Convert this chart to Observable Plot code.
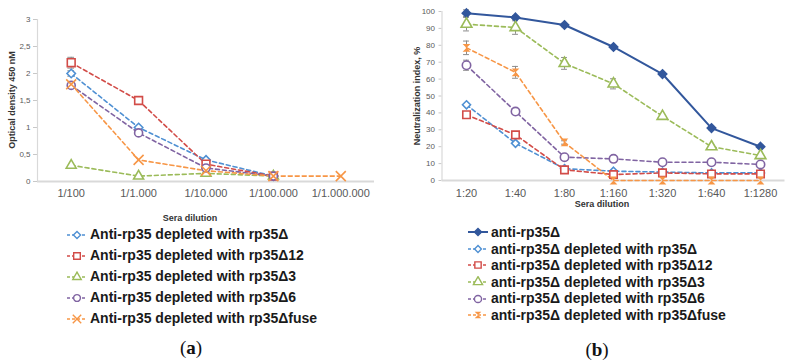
<!DOCTYPE html>
<html>
<head>
<meta charset="utf-8">
<script src="https://cdn.jsdelivr.net/npm/d3@7"></script>
<script src="https://cdn.jsdelivr.net/npm/@observablehq/plot@0.6"></script>
<style>
  body { margin:0; width:790px; height:364px; position:relative; background:#fff; overflow:hidden;
         font-family:"Liberation Sans", Arial, sans-serif; }
  .abs { position:absolute; }
  .ytitle { position:absolute; font-weight:bold; font-size:9px; color:#333; white-space:nowrap;
            transform:translate(-50%,-50%) rotate(-90deg); }
  .xtitle { position:absolute; font-weight:bold; font-size:9px; color:#333; white-space:nowrap;
            transform:translate(-50%,-50%); }
  .leg { position:absolute; font-weight:bold; font-size:14px; color:#1a1a1a; white-space:nowrap; }
  .leg div { display:flex; align-items:center; }
  .leg svg { margin-right:2px; }
  .cap { position:absolute; font-family:"Liberation Serif","DejaVu Serif",serif; font-size:19px; color:#111;
         transform:translate(-50%,-50%); }
</style>
</head>
<body>
<div id="pa" class="abs" style="left:0;top:0"></div>
<div id="pb" class="abs" style="left:400px;top:0"></div>
<div class="ytitle" style="left:12px;top:100px">Optical density 450 nM</div>
<div class="ytitle" style="left:417px;top:96px">Neutralization index, %</div>
<div class="xtitle" style="left:190px;top:218px">Sera dilution</div>
<div class="xtitle" style="left:602px;top:204px">Sera dilution</div>
<div id="la" class="leg" style="left:66px;top:224px;line-height:21px"></div>
<div id="lb" class="leg" style="left:467px;top:224px;line-height:16.6px"></div>
<div class="cap" style="left:191px;top:348px">(<b>a</b>)</div>
<div class="cap" style="left:597px;top:350px">(<b>b</b>)</div>
<script>
// ---------- Panel (a) data ----------
const dilA = ["1/100", "1/1.000", "1/10.000", "1/100.000", "1/1.000.000"];
const yTicksA = [0, 0.5, 1, 1.5, 2, 2.5, 3];
const namesA = [
  "Anti-rp35 depleted with rp35Δ",
  "Anti-rp35 depleted with rp35Δ12",
  "Anti-rp35 depleted with rp35Δ3",
  "Anti-rp35 depleted with rp35Δ6",
  "Anti-rp35 depleted with rp35Δfuse"
];
const a_d    = [2.0, 1.0, 0.4, 0.1];
const a_d12  = [2.2, 1.5, 0.32, 0.1];
const a_d3   = [0.3, 0.1, 0.15, 0.1];
const a_d6   = [1.78, 0.9, 0.25, 0.1];
const a_fuse = [1.8, 0.4, 0.2, 0.1, 0.1];
const errA_d   = [0.05, 0, 0, 0];
const errA_d12 = [0.1, 0, 0, 0];

// ---------- Panel (b) data ----------
const dilB = ["1:20", "1:40", "1:80", "1:160", "1:320", "1:640", "1:1280"];
const yTicksB = [0, 10, 20, 30, 40, 50, 60, 70, 80, 90, 100];
const namesB = [
  "anti-rp35Δ",
  "anti-rp35Δ depleted with rp35Δ",
  "anti-rp35Δ depleted with rp35Δ12",
  "anti-rp35Δ depleted with rp35Δ3",
  "anti-rp35Δ depleted with rp35Δ6",
  "anti-rp35Δ depleted with rp35Δfuse"
];
const b_all  = [99, 96.5, 92, 79, 63, 31, 20];
const b_d    = [44.8, 22, 7, 5.5, 5, 4.5, 4.5];
const b_d12  = [38.9, 27, 6.3, 3.5, 4.5, 3.9, 3.9];
const b_d3   = [92.5, 90.5, 69.3, 57.2, 38, 20, 14.8];
const b_d6   = [68.2, 40.8, 13.8, 12.8, 10.8, 10.8, 9.5];
const b_fuse = [78.5, 64, 22.5, 0, 0, 0, 0];
const errB_all  = [2, 1, 1, 0.5, 0.5, 1, 0.5];
const errB_d3   = [4, 4, 3.5, 3, 1.5, 0.5, 0.5];
const errB_d6   = [3, 0, 0, 0, 0, 0, 0];
const errB_fuse = [4, 3.5, 1, 0, 0, 0, 0];

// ---------- styles ----------
const C = {blue:"#4F90D3", red:"#D24C48", green:"#9BBB59", purple:"#8064A2", orange:"#F79646", navy:"#32579C"};
const hourglass = {draw(ctx, size){ const r = Math.sqrt(size)/2;
  ctx.moveTo(-r,-r); ctx.lineTo(r,-r); ctx.lineTo(-r,r); ctx.lineTo(r,r); ctx.closePath(); }};

const seriesA = [
  {name:namesA[0], v:a_d,   err:errA_d,   color:C.blue,   symbol:"diamond2", r:3.8, fill:"white"},
  {name:namesA[1], v:a_d12, err:errA_d12, color:C.red,    symbol:"square",   r:4.4, fill:"white"},
  {name:namesA[2], v:a_d3,  err:null,     color:C.green,  symbol:"triangle", r:3.7, fill:"white"},
  {name:namesA[3], v:a_d6,  err:null,     color:C.purple, symbol:"circle",   r:4.0, fill:"white"},
  {name:namesA[4], v:a_fuse,err:null,     color:C.orange, symbol:"times",    r:4.6, fill:"none"}
];
const seriesB = [
  {name:namesB[0], v:b_all, err:errB_all, color:C.navy,   symbol:"diamond2", r:3.8, fill:C.navy, solid:true},
  {name:namesB[1], v:b_d,   err:null,     color:C.blue,   symbol:"diamond2", r:3.6, fill:"white"},
  {name:namesB[2], v:b_d12, err:null,     color:C.red,    symbol:"square",   r:4.2, fill:"white"},
  {name:namesB[3], v:b_d3,  err:errB_d3,  color:C.green,  symbol:"triangle", r:4.0, fill:"white"},
  {name:namesB[4], v:b_d6,  err:errB_d6,  color:C.purple, symbol:"circle",   r:4.2, fill:"white"},
  {name:namesB[5], v:b_fuse,err:errB_fuse,color:C.orange, symbol:hourglass,  r:4.4, fill:C.orange, filledSym:true}
];

function rowsOf(s) { return s.v.map((v, i) => ({i, v, e: s.err ? s.err[i] : 0})); }

function seriesMarks(series, half) {
  const marks = [];
  // error bars (drawn first, behind)
  for (const s of series) {
    if (!s.err) continue;
    const er = rowsOf(s).filter(d => d.e > 0);
    marks.push(Plot.ruleX(er, {x:"i", y1:d => d.v - d.e, y2:d => d.v + d.e, stroke:"#8c8c8c", strokeWidth:1}));
    for (const sign of [1, -1]) {
      marks.push(Plot.ruleY(er, {y:d => d.v + sign*d.e, x1:d => d.i - half, x2:d => d.i + half,
        stroke:"#8c8c8c", strokeWidth:1}));
    }
  }
  // lines
  for (const s of series) {
    marks.push(Plot.line(rowsOf(s), {x:"i", y:"v", stroke:s.color, strokeWidth:s.solid ? 2 : 1.6,
      strokeDasharray:s.solid ? null : "4,3"}));
  }
  // markers
  for (const s of series) {
    marks.push(Plot.dot(rowsOf(s), {x:"i", y:"v", symbol:s.symbol, r:s.r,
      stroke:s.filledSym ? "none" : s.color, fill:s.fill, strokeWidth:1.6}));
  }
  return marks;
}

const plotA = Plot.plot({
  width:395, height:200,
  marginLeft:37, marginRight:21, marginTop:19, marginBottom:19,
  style:{fontFamily:"Liberation Sans, Arial, sans-serif", background:"transparent", color:"#595959"},
  x:{type:"linear", domain:[-0.5, dilA.length - 0.5]},
  y:{domain:[0, 3]},
  marks:[
    Plot.axisX({ticks:d3.range(dilA.length), tickFormat:i => dilA[i], tickSize:0, tickPadding:8,
      fontSize:11, label:null, fill:"#595959"}),
    Plot.axisY({ticks:yTicksA, tickFormat:d => String(d).replace(".", ","), tickSize:4, tickPadding:3,
      fontSize:8, label:null, fill:"#595959", stroke:"#c8c8c8"}),
    Plot.ruleY([0], {stroke:"#d9d9d9", strokeWidth:2}),
    Plot.ruleX([-0.5], {stroke:"#d9d9d9", strokeWidth:1.2}),
    ...seriesMarks(seriesA, 0.05)
  ]
});
document.getElementById("pa").appendChild(plotA);

const plotB = Plot.plot({
  width:390, height:200,
  marginLeft:41.5, marginRight:5.5, marginTop:11, marginBottom:20,
  style:{fontFamily:"Liberation Sans, Arial, sans-serif", background:"transparent", color:"#595959"},
  x:{type:"linear", domain:[-0.5, dilB.length - 0.5]},
  y:{domain:[0, 100]},
  marks:[
    Plot.axisX({ticks:d3.range(dilB.length), tickFormat:i => dilB[i], tickSize:0, tickPadding:9,
      fontSize:11, label:null, fill:"#595959"}),
    Plot.axisY({ticks:yTicksB, tickSize:3, tickPadding:4, fontSize:8, label:null, fill:"#595959", stroke:"#c8c8c8"}),
    Plot.ruleY([0], {stroke:"#d9d9d9", strokeWidth:2}),
    Plot.ruleX([-0.5], {stroke:"#d9d9d9", strokeWidth:1.2}),
    ...seriesMarks(seriesB, 0.06)
  ]
});
document.getElementById("pb").appendChild(plotB);

// ---------- legends ----------
function legendSymbol(s) {
  const svg = d3.create("svg").attr("width", 22).attr("height", 12);
  svg.append("line").attr("x1", 1).attr("x2", 21).attr("y1", 6).attr("y2", 6)
    .attr("stroke", s.color).attr("stroke-width", s.solid ? 2 : 1.6)
    .attr("stroke-dasharray", s.solid ? null : "3,2");
  const typ = typeof s.symbol === "string"
    ? ({diamond2:d3.symbolDiamond2, square:d3.symbolSquare, triangle:d3.symbolTriangle,
        circle:d3.symbolCircle, times:d3.symbolTimes})[s.symbol] : s.symbol;
  const size = (s.r * 0.85) ** 2 * Math.PI;
  svg.append("path").attr("transform", "translate(11,6)")
    .attr("d", d3.symbol(typ, size)())
    .attr("fill", s.fill === "none" ? "none" : s.fill)
    .attr("stroke", s.filledSym ? "none" : s.color).attr("stroke-width", 1.4);
  return svg.node();
}
function buildLegend(id, series) {
  const el = document.getElementById(id);
  for (const s of series) {
    const row = document.createElement("div");
    row.appendChild(legendSymbol(s));
    const t = document.createElement("span");
    t.textContent = s.name;
    row.appendChild(t);
    el.appendChild(row);
  }
}
buildLegend("la", seriesA);
buildLegend("lb", seriesB);
</script>
</body>
</html>
